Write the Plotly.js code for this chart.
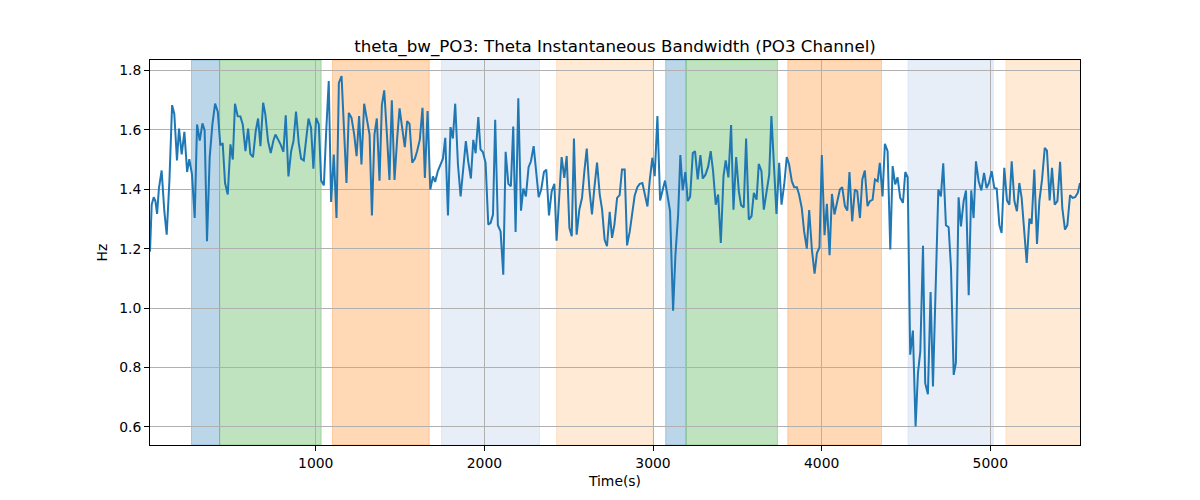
<!DOCTYPE html>
<html>
<head>
<meta charset="utf-8">
<script src="https://cdn.plot.ly/plotly-3.0.1.min.js"></script>
<style>html,body{margin:0;padding:0;background:#fff;}#chart{width:1200px;height:500px;}</style>
</head>
<body>
<div id="chart"></div>
<script>
const timeS = [17,27,39,49,59,70,86,102,116,132,148,161,177,189,205,221,237,250,266,282,296,312,328,341,355,371,387,403,419,434,448,462,478,494,508,521,537,553,567,583,599,612,628,644,658,672,688,
701,717,733,749,761,777,792,808,822,838,854,868,883,899,913,929,943,957,972,986,1002,1018,1032,1048,1062,1077,1091,1107,1123,1137,1153,1168,1182,1196,1212,1228,1242,1257,1271,1287,1303,1319,1333,1348,1362,1378,
1392,1406,1422,1437,1451,1467,1483,1497,1513,1528,1542,1556,1572,1588,1601,1617,1633,1647,1663,1679,1695,1708,1724,1740,1754,1768,1784,1799,1813,1827,1843,1859,1875,1890,1904,1920,1934,1948,1964,1977,1991,2007,2023,2037,2051,
2064,2080,2096,2112,2126,2142,2157,2171,2185,2201,2217,2231,2246,2262,2276,2292,2308,2322,2337,2353,2367,2383,2399,2415,2428,2444,2458,2474,2488,2504,2518,2531,2547,2563,2579,2593,2607,2622,2638,2652,2668,2684,2698,2713,2727,2743,
2757,2771,2787,2802,2816,2832,2846,2862,2877,2891,2907,2921,2937,2951,2967,2980,2996,3010,3026,3042,3056,3071,3085,3101,3119,3133,3149,3162,3176,3192,3206,3220,3236,3249,3265,3281,3295,3311,3327,3342,3356,3372,3386,3402,3418,
3431,3447,3463,3477,3493,3509,3522,3538,3552,3568,3584,3598,3614,3627,3643,3657,3673,3689,3702,3718,3732,3748,3762,3778,3793,3807,3823,3837,3853,3866,3882,3896,3912,3926,3942,3958,3972,3987,4001,4017,4031,4047,4061,4076,4092,
4108,4122,4138,4152,4165,4181,4197,4211,4227,4241,4256,4272,4286,4302,4316,4332,4345,4361,4375,4391,4407,4421,4436,4450,4466,4482,4496,4510,4525,4541,4557,4571,4585,4601,4614,4630,4646,4660,4692,4707,4721,4737,4753,4767,4783,
4796,4812,4826,4842,4856,4872,4887,4901,4915,4931,4947,4963,4978,4992,5008,5024,5038,5054,5067,5083,5099,5113,5127,5143,5158,5172,5186,5202,5216,5232,5245,5261,5277,5291,5307,5323,5336,5352,5366,5382,5398,5414,5427,5443,5457,5473,5489,5503,5519,5532];

const bandwidthHz = [1.19,1.348,1.373,1.36,1.317,1.404,1.463,1.326,1.247,1.427,1.683,1.654,1.497,1.604,1.517,1.593,1.458,1.501,1.45,1.303,1.618,1.564,1.622,1.598,1.225,1.508,1.618,1.688,1.661,1.548,1.555,1.421,1.382,1.551,1.5,1.688,1.646,1.645,1.618,1.528,1.604,1.519,1.508,1.596,1.638,1.545,1.691,
1.652,1.562,1.522,1.564,1.584,1.567,1.55,1.526,1.649,1.443,1.528,1.562,1.661,1.556,1.503,1.497,1.573,1.638,1.607,1.469,1.64,1.618,1.429,1.413,1.596,1.764,1.357,1.517,1.303,1.758,1.781,1.596,1.421,1.657,1.64,1.584,1.511,1.646,1.483,1.688,1.629,1.584,1.312,1.584,1.638,1.429,
1.683,1.733,1.584,1.431,1.699,1.431,1.573,1.672,1.604,1.542,1.629,1.62,1.489,1.503,1.528,1.567,1.674,1.438,1.663,1.399,1.443,1.425,1.461,1.485,1.503,1.573,1.312,1.609,1.571,1.688,1.485,1.376,1.472,1.562,1.494,1.436,1.566,1.521,1.643,1.534,1.525,1.489,1.281,1.287,1.315,
1.634,1.279,1.258,1.112,1.526,1.418,1.41,1.611,1.256,1.706,1.328,1.402,1.376,1.474,1.494,1.545,1.449,1.373,1.399,1.458,1.466,1.312,1.393,1.418,1.227,1.382,1.508,1.438,1.512,1.27,1.242,1.571,1.247,1.331,1.371,1.461,1.537,1.404,1.315,1.404,1.49,1.382,1.331,1.23,1.208,1.324,
1.236,1.281,1.371,1.38,1.466,1.466,1.211,1.258,1.331,1.378,1.407,1.418,1.421,1.378,1.342,1.427,1.506,1.444,1.646,1.362,1.393,1.429,1.382,1.326,0.991,1.18,1.315,1.515,1.396,1.458,1.36,1.375,1.522,1.528,1.433,1.515,1.436,1.449,1.476,1.528,1.461,1.348,1.382,1.219,1.444,
1.497,1.44,1.616,1.331,1.508,1.393,1.346,1.339,1.571,1.298,1.309,1.388,1.365,1.485,1.461,1.331,1.393,1.449,1.646,1.475,1.317,1.489,1.348,1.416,1.508,1.483,1.427,1.407,1.407,1.382,1.337,1.258,1.2,1.33,1.197,1.116,1.185,1.204,1.515,1.245,1.351,1.178,1.384,1.315,1.36,
1.399,1.407,1.343,1.328,1.458,1.292,1.399,1.393,1.303,1.433,1.463,1.343,1.36,1.365,1.433,1.427,1.489,1.376,1.553,1.528,1.197,1.478,1.416,1.44,1.371,1.354,1.458,1.44,0.843,0.924,0.601,0.781,0.854,1.21,0.747,0.71,1.054,0.736,1.399,1.376,1.487,1.279,1.272,1.135,0.775,
0.815,1.373,1.275,1.36,1.396,1.043,1.396,1.303,1.494,1.427,1.396,1.455,1.404,1.421,1.461,1.404,1.402,1.279,1.253,1.472,1.362,1.348,1.494,1.36,1.326,1.421,1.371,1.242,1.152,1.301,1.283,1.466,1.216,1.36,1.433,1.539,1.53,1.362,1.472,1.348,1.36,1.492,1.337,1.264,1.279,1.38,1.371,1.373,1.388,1.421];

const regionStart = [263, 430, 1099, 1746, 2428, 3075, 3196, 3799, 4512, 5093];
const regionEnd   = [430, 1032, 1673, 2327, 3001, 3196, 3738, 4355, 5018, 5600];
const regionKind  = ['blue','green','orange','lightblue','lightorange','blue','green','orange','lightblue','lightorange'];

const xTicks = [1000, 2000, 3000, 4000, 5000];
const yTicks = [0.6, 0.8, 1.0, 1.2, 1.4, 1.6, 1.8];

const kindColor = {
  blue: 'rgba(31,119,180,0.3)',
  green: 'rgba(44,160,44,0.3)',
  orange: 'rgba(255,127,14,0.3)',
  lightblue: 'rgba(174,199,232,0.3)',
  lightorange: 'rgba(255,187,120,0.3)'
};

const shapes = regionStart.map((s, i) => ({
  type: 'rect', xref: 'x', yref: 'paper', x0: s, x1: regionEnd[i], y0: 0, y1: 1,
  fillcolor: kindColor[regionKind[i]], line: {width: 1, color: kindColor[regionKind[i]]}, layer: 'below'
}));

const font = {family: 'DejaVu Sans, sans-serif', color: '#000'};

Plotly.newPlot('chart', [{
  x: timeS, y: bandwidthHz, type: 'scatter', mode: 'lines',
  line: {color: '#1f77b4', width: 2}, hoverinfo: 'skip'
}], {
  width: 1200, height: 500,
  margin: {l: 150, r: 120, t: 60, b: 55},
  paper_bgcolor: '#fff', plot_bgcolor: '#fff',
  showlegend: false,
  font: Object.assign({size: 14}, font),
  title: {text: 'theta_bw_PO3: Theta Instantaneous Bandwidth (PO3 Channel)', font: Object.assign({size: 16.7}, font),
          x: 615/1200, xanchor: 'center', yref: 'container', y: 1 - 46/500, yanchor: 'middle'},
  xaxis: {
    range: [17, 5532], tickvals: xTicks, ticktext: xTicks.map(String),
    ticks: 'outside', ticklen: 5, tickcolor: '#000', tickwidth: 1,
    showline: true, mirror: true, linecolor: '#000', linewidth: 1,
    showgrid: true, gridcolor: '#b0b0b0', gridwidth: 1, zeroline: false,
    tickfont: Object.assign({size: 13.9}, font),
    title: {text: 'Time(s)', font: Object.assign({size: 13.9}, font), standoff: 6},
    automargin: false
  },
  yaxis: {
    range: [0.539, 1.835], tickvals: yTicks, ticktext: yTicks.map(v => v.toFixed(1)),
    ticks: 'outside', ticklen: 5, tickcolor: '#000', tickwidth: 1,
    showline: true, mirror: true, linecolor: '#000', linewidth: 1,
    showgrid: true, gridcolor: '#b0b0b0', gridwidth: 1, zeroline: false,
    tickfont: Object.assign({size: 13.9}, font),
    title: {text: 'Hz', font: Object.assign({size: 13.9}, font), standoff: 8},
    automargin: false
  },
  shapes: shapes
}, {displayModeBar: false, staticPlot: true});
</script>
</body>
</html>
